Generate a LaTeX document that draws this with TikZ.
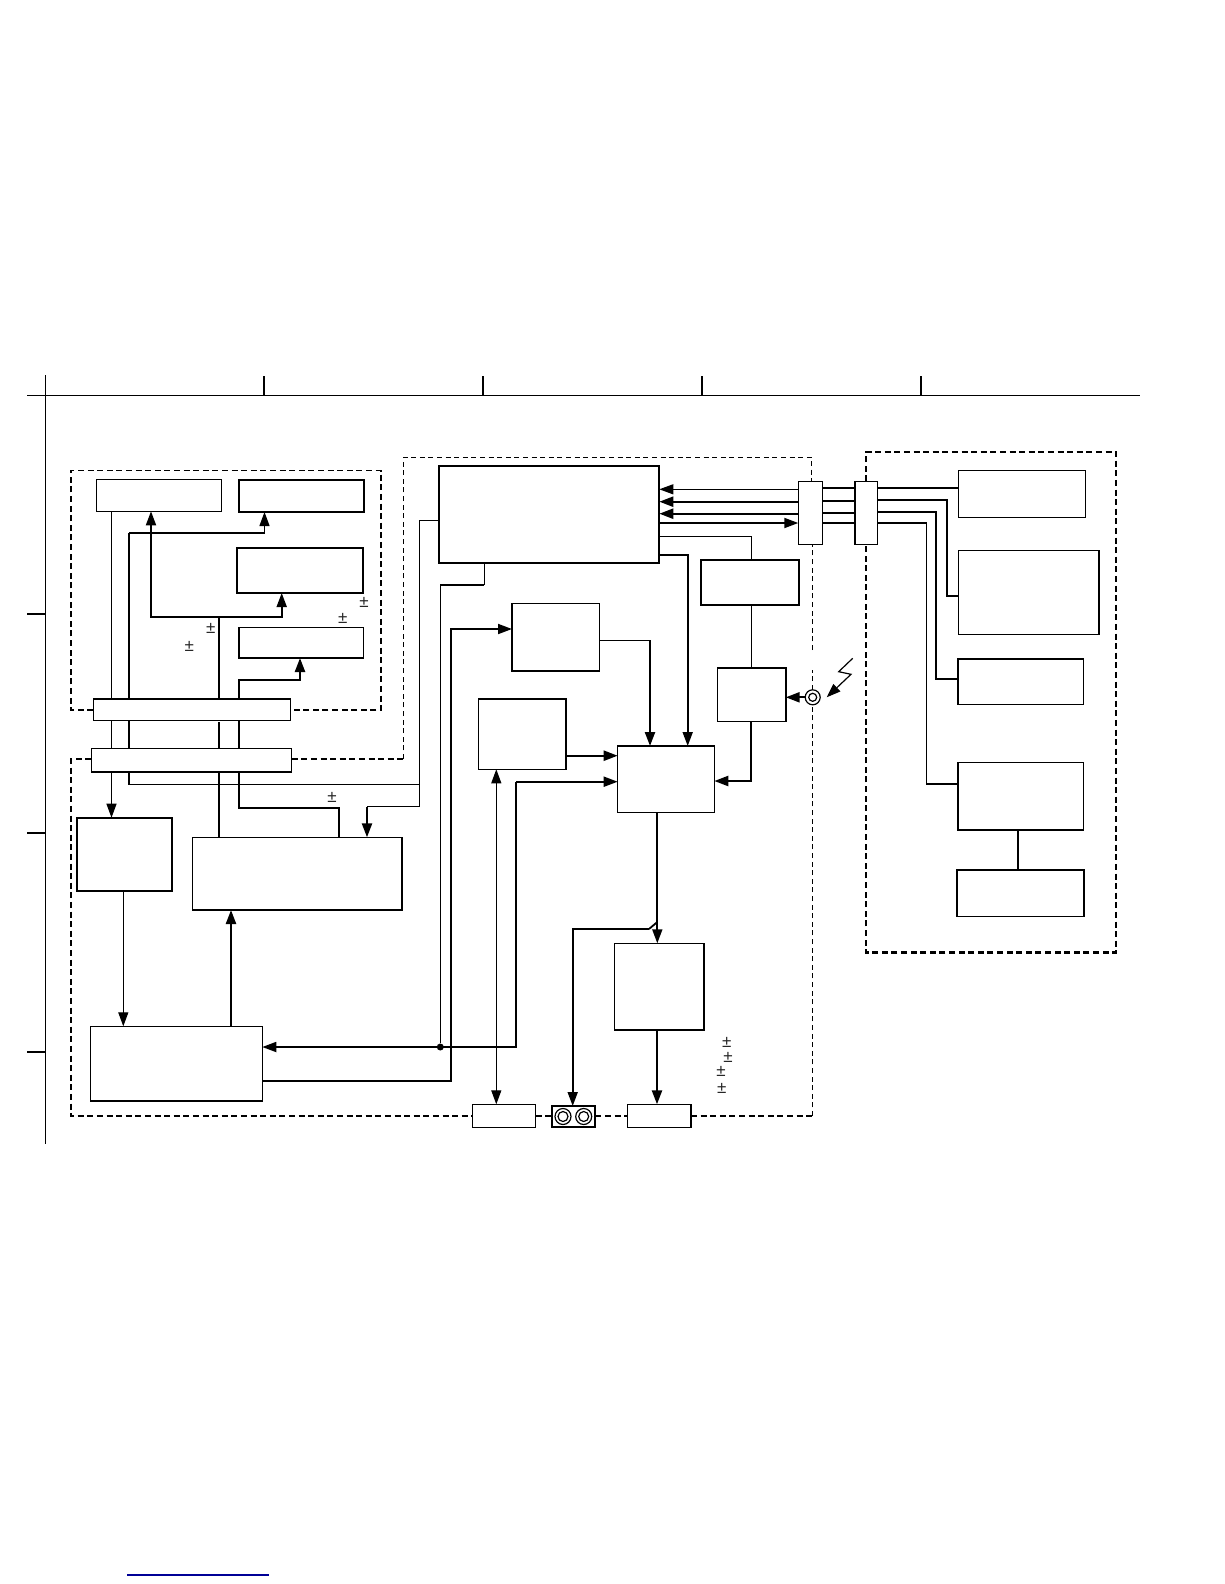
\documentclass[tikz,border=0pt]{standalone}
\usepackage{fontspec}
\setmainfont{Liberation Sans}
\usetikzlibrary{arrows.meta}
\tikzset{
  thn/.style={line width=1.2pt},
  med/.style={line width=1.8pt},
  thk/.style={line width=2.3pt},
  tip/.style={-{Triangle[length=14pt,width=10pt]}},
  tipb/.style={{Triangle[length=14pt,width=10pt]}-{Triangle[length=14pt,width=10pt]}},
  dashthin/.style={line width=1.2pt,dash pattern=on 5pt off 3.6pt},
  dashthick/.style={line width=2.1pt,dash pattern=on 6pt off 3.6pt},
  dashmed/.style={line width=1.6pt,dash pattern=on 6pt off 3.6pt},
  frameline/.style={line width=1.5pt},
  boxn/.style={draw,rectangle,inner sep=0pt,outer sep=0pt},
  pm/.style={inner sep=0pt,font=\fontsize{17}{17}\selectfont,text=black!85},
  ring/.style={draw,circle,inner sep=0pt,outer sep=0pt,line width=1.2pt},
}
\newcommand{\bxn}[6]{%
  \pgfmathsetmacro{\bxw}{#4-#2}\pgfmathsetmacro{\bxh}{#5-#3}%
  \node[boxn,line width=#6pt,minimum width=\bxw pt,minimum height=\bxh pt] (#1) at ({(#2+#4)/2},{(#3+#5)/2}) {};}
\begin{document}
\begin{tikzpicture}[x=1pt,y=-1pt]
\useasboundingbox (0,0) rectangle (1224,1584);
% frame
\draw[frameline] (27,395.5) -- (1140,395.5);
\draw[frameline] (45.3,375) -- (45.3,1144);
\foreach \tx in {264,483,702,921} \draw[frameline] (\tx,376) -- (\tx,395.5);
\foreach \ty in {614,833,1052} \draw[frameline] (27,\ty) -- (45.3,\ty);
% boxes
\bxn{bA}{96.7}{479.7}{221.7}{511.3}{1.5}
\bxn{bB}{238.7}{479.7}{363.7}{512}{1.8}
\bxn{bC}{236.7}{548}{363}{593}{1.8}
\bxn{bD}{238.7}{627.3}{363.3}{658}{1.6}
\bxn{barA}{93.3}{699}{290.3}{720.3}{1.5}
\bxn{barB}{91.3}{748.3}{291.7}{772}{1.5}
\bxn{bE}{77.3}{817.7}{172.3}{891}{1.8}
\bxn{bF}{192.3}{837.3}{401.7}{910}{1.6}
\bxn{bG}{90.3}{1026.3}{262.3}{1101}{1.6}
\bxn{bM}{439}{466}{659.3}{562.7}{1.8}
\bxn{bH}{512}{603.3}{599.3}{671}{1.3}
\bxn{bI}{478.7}{699}{566}{769.3}{1.3}
\bxn{bJ}{617.7}{746}{714.3}{812.7}{1.4}
\bxn{bK}{717.3}{667.7}{785.7}{721.3}{1.6}
\bxn{bL}{701}{559.7}{799.3}{605}{2}
\bxn{conA}{798.3}{481.3}{822.3}{544.7}{1.3}
\bxn{conB}{855}{481.3}{877.3}{544.7}{1.3}
\bxn{bN}{958.7}{470.7}{1085.3}{517.7}{1.4}
\bxn{bO}{958.7}{550.3}{1099}{634.7}{1.4}
\bxn{bP}{958}{659}{1083.3}{704.7}{1.4}
\bxn{bQ}{958}{762.5}{1083.3}{830}{1.4}
\bxn{bR}{957}{870}{1084}{916.6}{1.4}
\bxn{bS}{614.3}{943.3}{704}{1030}{1.4}
\bxn{outA}{472.7}{1104.3}{535.7}{1127.3}{1.5}
\bxn{jack}{551.7}{1106}{595.3}{1127.3}{1.8}
\bxn{outB}{627.7}{1104.3}{691}{1127.3}{1.5}
\node[ring,minimum size=16pt] (ringA) at (563,1116.5) {};
\node[ring,minimum size=10pt] (ringB) at (563,1116.5) {};
\node[ring,minimum size=16pt] (ringC) at (583.7,1116.5) {};
\node[ring,minimum size=10pt] (ringD) at (583.7,1116.5) {};
\node[ring,minimum size=15pt] (sensor) at (812.7,697.3) {};
\node[ring,minimum size=8pt] (sensorin) at (812.7,697.3) {};
\node[fill,circle,inner sep=0pt,minimum size=7pt] (dot) at (440.3,1047) {};
% dashed enclosures
\draw[dashmed] (barA.west |- 0,710) -- (71,710) -- (71,470.5) -- (381,470.5) -- (381,710) -- (barA.east |- 0,710);
\draw[dashthin] (403.3,759) -- (403.3,457.3) -- (811.7,457.3) -- (811.7,481.3);
\draw[dashthick] (barB.east |- 0,759) -- (403.3,759);
\draw[dashthick] (barB.west |- 0,759) -- (71,759) -- (71,1116) -- (outA.west |- 0,1116);
\draw[dashthick] (outA.east |- 0,1116) -- (jack.west |- 0,1116);
\draw[dashthick] (jack.east |- 0,1116) -- (outB.west |- 0,1116);
\draw[dashthick] (outB.east |- 0,1116) -- (812.7,1116);
\draw[dashthin] (812.7,1116) -- (sensor.south);
\draw[dashthin] (sensor.north) -- (812.7,670);
\draw[dashthin] (812.7,650) -- (conA.south -| 812.7,0);
\draw[dashthick] (866,481.3) -- (866,452) -- (1116,452) -- (1116,952.5) -- (866,952.5) -- (866,544.7);
% upper left connectors
\draw[thn] (111.5,0 |- bA.south) -- (111.5,0 |- barA.north);
\draw[thn] (111.5,0 |- barA.south) -- (111.5,0 |- barB.north);
\draw[thn,tip] (111.5,0 |- barB.south) -- (111.5,0 |- bE.north);
\draw[thk] (129,0 |- barA.north) -- (129,533);
\draw[thn,tip] (129,533) -- (264.5,533) -- (264.5,0 |- bB.south);
\draw[thn] (129,0 |- barA.south) -- (129,0 |- barB.north);
\draw[thn] (129,0 |- barB.south) -- (129,784.5) -- (419.5,784.5);
\draw[thn] (bM.west |- 0,520.5) -- (419.5,520.5) -- (419.5,806.5) -- (367,806.5);
\draw[thk,tip] (367,806.5) -- (367,0 |- bF.north);
\draw[thk] (219,0 |- barA.north) -- (219,617);
\draw[med,tip] (219,617) -- (151,617) -- (151,0 |- bA.south);
\draw[med,tip] (219,617) -- (281.7,617) -- (281.7,0 |- bC.south);
\draw[thk] (219,722) -- (219,0 |- barB.north);
\draw[thk] (219,0 |- barB.south) -- (219,0 |- bF.north);
\draw[thk,tip] (239,0 |- barA.north) -- (239,680) -- (300,680) -- (300,0 |- bD.south);
\draw[thk] (239,0 |- barA.south) -- (239,0 |- barB.north);
\draw[thk] (239,0 |- barB.south) -- (239,808) -- (339,808) -- (339,0 |- bF.north);
% lower left
\draw[thn,tip] (123.3,0 |- bE.south) -- (123.3,0 |- bG.north);
\draw[thk,tip] (231,0 |- bG.north) -- (231,0 |- bF.south);
\draw[med,tip] (516.3,781.7) -- (516.3,1047) -- (bG.east |- 0,1047);
\draw[thn] (dot) -- (440.3,585);
\draw[thk] (440.3,585) -- (484.3,585);
\draw[thn] (484.3,585) -- (484.3,0 |- bM.south);
\draw[med,tip] (bG.east |- 0,1080.7) -- (451.3,1080.7) -- (451.3,629) -- (bH.west |- 0,629);
\draw[med,tip] (516.3,781.7) -- (bJ.west |- 0,781.7);
\draw[thn,tipb] (496.3,0 |- bI.south) -- (496.3,0 |- outA.north);
% centre
\draw[thn] (bH.east |- 0,640.3) -- (650,640.3);
\draw[thk,tip] (650,640.3) -- (650,0 |- bJ.north);
\draw[med,tip] (bM.east |- 0,555) -- (687.7,555) -- (687.7,0 |- bJ.north);
\draw[thk,tip] (bI.east |- 0,755.7) -- (bJ.west |- 0,755.7);
\draw[thn] (bM.east |- 0,536.7) -- (751.3,536.7) -- (751.3,0 |- bL.north);
\draw[thn] (751.3,0 |- bL.south) -- (751.3,0 |- bK.north);
\draw[thk,tip] (751.3,0 |- bK.south) -- (751.3,781) -- (bJ.east |- 0,781);
\draw[thk,tip] (sensor.west) -- (bK.east |- sensor.west);
\draw[thn,tip] (852.7,658.3) -- (838.7,671.7) -- (851,674.3) -- (826.7,697.3);
% bus to the right
\draw[thn,tip] (conA.west |- 0,489.3) -- (bM.east |- 0,489.3);
\draw[thk,tip] (conA.west |- 0,501.7) -- (bM.east |- 0,501.7);
\draw[thk,tip] (conA.west |- 0,513.7) -- (bM.east |- 0,513.7);
\draw[med,tip] (bM.east |- 0,523) -- (conA.west |- 0,523);
\draw[thn] (conA.east |- 0,488) -- (conB.west |- 0,488);
\draw[thk] (conA.east |- 0,501) -- (conB.west |- 0,501);
\draw[thk] (conA.east |- 0,513) -- (conB.west |- 0,513);
\draw[med] (conA.east |- 0,523) -- (conB.west |- 0,523);
\draw[med] (conB.east |- 0,487.7) -- (bN.west |- 0,487.7);
\draw[med] (conB.east |- 0,500) -- (946.7,500) -- (946.7,596) -- (bO.west |- 0,596);
\draw[med] (conB.east |- 0,512) -- (936,512) -- (936,679.3) -- (bP.west |- 0,679.3);
\draw[med] (conB.east |- 0,522.7) -- (926.5,522.7) -- (926.5,784) -- (bQ.west |- 0,784);
\draw[thn] (1018,0 |- bQ.south) -- (1018,0 |- bR.north);
% bottom centre
\draw[med,tip] (657.3,0 |- bJ.south) -- (657.3,0 |- bS.north);
\draw[med] (657.3,922) -- (649,929);
\draw[med,tip] (649,929) -- (572.7,929) -- (572.7,0 |- jack.north);
\draw[thk,tip] (657,0 |- bS.south) -- (657,0 |- outB.north);
% plus-minus marks
\node[pm] (pmA) at (364,602.7) {±};
\node[pm] (pmB) at (342.7,618.7) {±};
\node[pm] (pmC) at (210.7,628.7) {±};
\node[pm] (pmD) at (189.3,646) {±};
\node[pm] (pmE) at (332,797.3) {±};
\node[pm] (pmF) at (726.7,1042.7) {±};
\node[pm] (pmG) at (728,1057) {±};
\node[pm] (pmH) at (721,1071.7) {±};
\node[pm] (pmI) at (721.7,1088.7) {±};
% link underline
\draw[line width=1.1pt,color={rgb,255:red,0;green,0;blue,150}] (127,1575) -- (269,1575);
\end{tikzpicture}
\end{document}
